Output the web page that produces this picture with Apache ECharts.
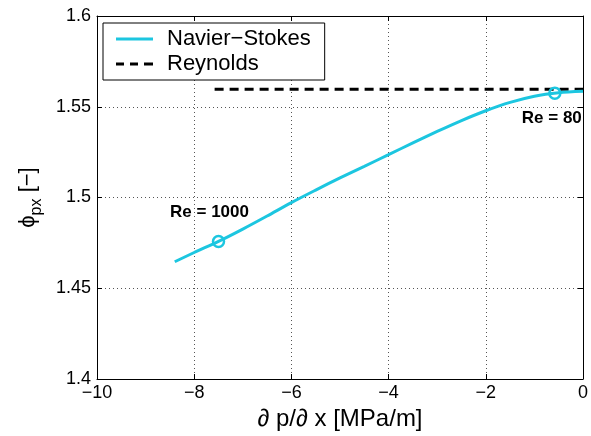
<!DOCTYPE html>
<html>
<head>
<meta charset="utf-8">
<script src="https://cdn.jsdelivr.net/npm/echarts@6/dist/echarts.min.js"></script>
<style>
  html, body { margin: 0; padding: 0; background: #fff; }
  #chart { width: 591px; height: 436px; }
</style>
</head>
<body>
<div id="chart"></div>
<script>
// Pressure gradient (MPa/m) and flow factor from the Navier-Stokes solution
const gradX = [-8.4, -8, -7.5, -7, -6.5, -6, -5.5, -5, -4.5, -4, -3.5, -3, -2.5, -2, -1.5, -1, -0.5, 0];
const phiNS = [1.4646, 1.4697, 1.4758, 1.4826, 1.4898, 1.4972, 1.5041, 1.5108, 1.5172, 1.5236, 1.5301, 1.5364, 1.5424, 1.5478, 1.5524, 1.5558, 1.5577, 1.5585];

// Reynolds (lubrication) limit: constant value
const reynoldsX = [-7.58, 0];
const reynoldsPhi = [1.5597, 1.5597];

// Marked Reynolds-number points
const markX = [-7.5, -0.58];
const markPhi = [1.4758, 1.5575];
const markText = ['Re = 1000', 'Re = 80'];

const xTicks = { min: -10, max: 0, step: 2 };
const yTicks = { min: 1.4, max: 1.6, step: 0.05 };

const seriesNames = ['Navier\u2212Stokes', 'Reynolds'];

const cyan = '#1cc6e0';
const font = '"Liberation Sans", Arial, Helvetica, sans-serif';

const chart = echarts.init(document.getElementById('chart'), null, { renderer: 'canvas' });

const gridLine = { show: true, lineStyle: { color: '#555', width: 1, type: [1, 3] } };
const minus = v => String(v).replace('-', '\u2212');

const labelOffsets = [[-9, -29], [-3, 25]];

// Legend samples: a solid bar and a dashed bar
const solidIcon = 'path://M0,0H37V3H0Z';
const dashedIcon = 'path://M0,0H8V3H0Z M14,0H22V3H14Z M28,0H37V3H28Z';

const option = {
  animation: false,
  backgroundColor: '#fff',
  textStyle: { fontFamily: font },
  grid: { left: 97, right: 7, top: 16, bottom: 53, show: false },
  legend: {
    data: [
      { name: seriesNames[0], icon: solidIcon },
      { name: seriesNames[1], icon: dashedIcon }
    ],
    orient: 'vertical',
    left: 103,
    top: 23,
    padding: [5, 14, 5, 13],
    itemWidth: 37,
    itemHeight: 3,
    itemGap: 3,
    borderColor: '#000',
    borderWidth: 1,
    backgroundColor: '#fff',
    textStyle: { fontFamily: font, fontSize: 22, color: '#000', lineHeight: 22, padding: [0, 0, 0, 9] }
  },
  xAxis: [{
    type: 'value',
    min: xTicks.min, max: xTicks.max, interval: xTicks.step,
    position: 'bottom',
    name: '\u2202 p/\u2202 x [MPa/m]',
    nameLocation: 'middle',
    nameGap: 28,
    nameTextStyle: { fontFamily: font, fontSize: 24, color: '#000' },
    axisLine: { show: true, onZero: false, lineStyle: { color: '#000', width: 1 } },
    axisTick: { show: true, inside: true, length: 5, lineStyle: { color: '#000' } },
    axisLabel: { margin: 5, fontSize: 18, color: '#000', fontFamily: font, formatter: minus },
    splitLine: gridLine
  }, {
    type: 'value',
    min: xTicks.min, max: xTicks.max, interval: xTicks.step,
    position: 'top',
    axisLine: { show: true, onZero: false, lineStyle: { color: '#000', width: 1 } },
    axisTick: { show: true, inside: true, length: 5, lineStyle: { color: '#000' } },
    axisLabel: { show: false },
    splitLine: { show: false }
  }],
  yAxis: [{
    type: 'value',
    min: yTicks.min, max: yTicks.max, interval: yTicks.step,
    position: 'left',
    name: '{a|\u03d5}{b|px}{a| [\u2212]}',
    nameLocation: 'middle',
    nameGap: 56,
    nameRotate: 90,
    nameTextStyle: {
      color: '#000',
      rich: {
        a: { fontFamily: font, fontSize: 22, color: '#000', verticalAlign: 'bottom', lineHeight: 30 },
        b: { fontFamily: font, fontSize: 16, color: '#000', verticalAlign: 'bottom', lineHeight: 30, padding: [0, 0, -6, 0] }
      }
    },
    axisLine: { show: true, onZero: false, lineStyle: { color: '#000', width: 1 } },
    axisTick: { show: true, inside: true, length: 5, lineStyle: { color: '#000' } },
    axisLabel: { margin: 6, fontSize: 18, color: '#000', fontFamily: font },
    splitLine: gridLine
  }, {
    type: 'value',
    min: yTicks.min, max: yTicks.max, interval: yTicks.step,
    position: 'right',
    axisLine: { show: true, onZero: false, lineStyle: { color: '#000', width: 1 } },
    axisTick: { show: true, inside: true, length: 5, lineStyle: { color: '#000' } },
    axisLabel: { show: false },
    splitLine: { show: false }
  }],
  series: [
    {
      name: seriesNames[1],
      type: 'line',
      data: reynoldsX.map((x, i) => [x, reynoldsPhi[i]]),
      symbol: 'none',
      lineStyle: { color: '#000', width: 3, type: [9, 6] },
      itemStyle: { color: '#000' },
      z: 3
    },
    {
      name: seriesNames[0],
      type: 'line',
      data: gradX.map((x, i) => [x, phiNS[i]]),
      symbol: 'none',
      smooth: 0.3,
      lineStyle: { color: cyan, width: 3 },
      itemStyle: { color: cyan },
      z: 4
    },
    {
      name: 'Re',
      type: 'scatter',
      data: markX.map((x, i) => ({
        value: [x, markPhi[i]],
        label: {
          show: true,
          position: 'inside',
          offset: labelOffsets[i],
          formatter: markText[i],
          fontFamily: font,
          fontSize: 17,
          fontWeight: 'bold',
          color: '#000',
          textBorderWidth: 0
        }
      })),
      symbol: 'circle',
      symbolSize: 11,
      itemStyle: { color: 'rgba(255,255,255,0)', borderColor: cyan, borderWidth: 2.5, opacity: 1 },
      emphasis: { disabled: true },
      z: 5
    }
  ]
};

chart.setOption(option);
</script>
</body>
</html>
